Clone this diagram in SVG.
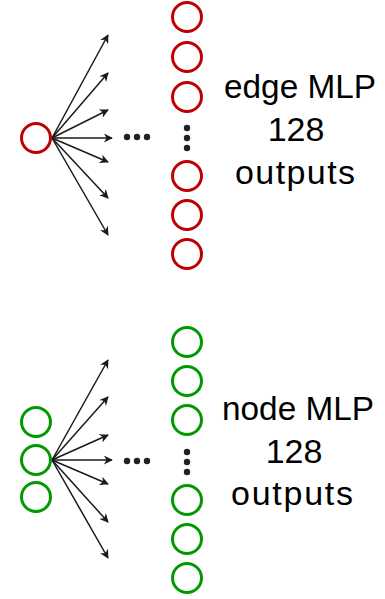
<svg xmlns="http://www.w3.org/2000/svg" width="385" height="599" viewBox="0 0 385 599">
<defs>
<style>
.red{fill:none;stroke:#C00000;stroke-width:3}
.grn{fill:none;stroke:#009A00;stroke-width:3}
.arr{fill:none;stroke:#1a1a1a;stroke-width:1.5;marker-end:url(#ah)}
.dot{fill:#222}
.lbl{font-family:"Liberation Sans",Arial,sans-serif;font-size:34px;fill:#000;text-anchor:middle}
</style>
<marker id="ah" viewBox="0 0 10 10" refX="9" refY="5" markerWidth="11" markerHeight="9" markerUnits="userSpaceOnUse" orient="auto">
<path d="M0,0 L10,5 L0,10 L3,5 Z" fill="#1a1a1a"/>
</marker>
</defs>
<g id="connectors">
<path class="arr" d="M52,138 L108,35"/>
<path class="arr" d="M52,138 L108,73"/>
<path class="arr" d="M52,138 L108,110"/>
<path class="arr" d="M52,138 L112,138"/>
<path class="arr" d="M52,138 L108,162"/>
<path class="arr" d="M52,138 L108,198"/>
<path class="arr" d="M52,138 L108,235"/>
<path class="arr" d="M52,460 L108,360"/>
<path class="arr" d="M52,460 L108,397"/>
<path class="arr" d="M52,460 L108,435"/>
<path class="arr" d="M52,460 L112,460"/>
<path class="arr" d="M52,460 L108,484"/>
<path class="arr" d="M52,460 L108,522"/>
<path class="arr" d="M52,460 L108,558"/>
</g>
<g id="edge-input"><circle class="red" cx="36" cy="138" r="14.5"/></g>
<g id="edge-outputs">
<circle class="red" cx="187" cy="17" r="14.5"/>
<circle class="red" cx="187" cy="57" r="14.5"/>
<circle class="red" cx="187" cy="97" r="14.5"/>
<circle class="red" cx="187" cy="176" r="14.5"/>
<circle class="red" cx="187" cy="215" r="14.5"/>
<circle class="red" cx="187" cy="254" r="14.5"/>
</g>
<g id="edge-dots">
<circle class="dot" cx="127" cy="137" r="3.2"/>
<circle class="dot" cx="137" cy="137" r="3.2"/>
<circle class="dot" cx="147" cy="137" r="3.2"/>
<circle class="dot" cx="187" cy="128" r="3.2"/>
<circle class="dot" cx="187" cy="138" r="3.2"/>
<circle class="dot" cx="187" cy="148" r="3.2"/>
</g>
<g id="edge-label">
<text class="lbl" x="300" y="98" textLength="152" lengthAdjust="spacingAndGlyphs">edge MLP</text>
<text class="lbl" x="296" y="141">128</text>
<text class="lbl" x="295" y="184" textLength="120" lengthAdjust="spacing">outputs</text>
</g>
<g id="node-inputs">
<circle class="grn" cx="36" cy="422" r="14.5"/>
<circle class="grn" cx="36" cy="460" r="14.5"/>
<circle class="grn" cx="36" cy="497" r="14.5"/>
</g>
<g id="node-outputs">
<circle class="grn" cx="187" cy="342" r="14.5"/>
<circle class="grn" cx="187" cy="381" r="14.5"/>
<circle class="grn" cx="187" cy="420" r="14.5"/>
<circle class="grn" cx="187" cy="500" r="14.5"/>
<circle class="grn" cx="187" cy="539" r="14.5"/>
<circle class="grn" cx="187" cy="578" r="14.5"/>
</g>
<g id="node-dots">
<circle class="dot" cx="127" cy="461" r="3.2"/>
<circle class="dot" cx="137" cy="461" r="3.2"/>
<circle class="dot" cx="147" cy="461" r="3.2"/>
<circle class="dot" cx="187" cy="452" r="3.2"/>
<circle class="dot" cx="187" cy="462" r="3.2"/>
<circle class="dot" cx="187" cy="472" r="3.2"/>
</g>
<g id="node-label">
<text class="lbl" x="298" y="420" textLength="152" lengthAdjust="spacingAndGlyphs">node MLP</text>
<text class="lbl" x="294" y="463">128</text>
<text class="lbl" x="292" y="505" textLength="122" lengthAdjust="spacing">outputs</text>
</g>
</svg>
